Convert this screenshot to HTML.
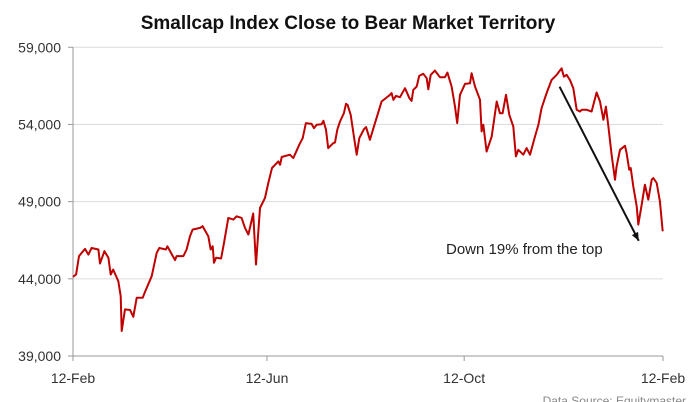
<!DOCTYPE html>
<html><head><meta charset="utf-8">
<style>
html,body{margin:0;padding:0;background:#fff;}
svg{display:block;font-family:"Liberation Sans",sans-serif;}
</style></head>
<body>
<svg id="chart" width="696" height="402" viewBox="0 0 696 402">
<text x="348" y="29" text-anchor="middle" font-size="19" font-weight="bold" fill="#111">Smallcap Index Close to Bear Market Territory</text>
<g id="grid"></g>
<g id="yaxis"></g>
<g id="xaxis"></g>
<path id="series" fill="none" stroke="#c00000" stroke-width="2" stroke-linejoin="round"/>
<g id="annot"></g>
<text x="686" y="405" text-anchor="end" font-size="12" fill="#888">Data Source: Equitymaster</text>
</svg>
<script>
const yTicks=[39000,44000,49000,54000,59000];
const yTickLabels=["39,000","44,000","49,000","54,000","59,000"];
const xTicks=[0,120,242,365];
const xTickLabels=["12-Feb","12-Jun","12-Oct","12-Feb"];
const days=[0,1.9,3.7,7.4,9.5,11.5,15.7,16.7,19.4,21.9,23.3,24.9,28.0,29.5,30.1,32.2,35.3,37.3,39.4,43.1,44.5,48.7,51.8,53.4,57.5,58.4,63.1,64.1,68.3,70.3,72.4,74.0,78.6,80.2,83.7,85.2,86.4,87.2,88.5,91.6,93.4,96.1,99.2,101.2,104.3,106.4,108.5,111.5,113.2,115.7,118.8,120.8,123.1,127.0,128.1,129.1,134.2,136.3,140.0,142.1,144.1,147.6,149.1,150.7,153.8,154.9,156.5,157.9,161.0,162.1,163.5,165.2,167.6,168.9,169.9,171.8,173.8,175.5,177.1,180.0,181.3,183.7,186.8,190.9,196.1,197.1,198.2,199.8,202.3,205.4,208.1,209.5,210.5,212.6,214.2,216.7,218.8,219.8,221.3,223.9,227.0,230.1,231.6,234.2,236.3,237.7,239.4,242.5,245.6,246.6,248.7,251.8,252.8,253.8,255.9,259.0,262.1,264.1,265.8,267.9,269.9,272.4,274.0,275.5,278.6,280.6,282.7,285.8,287.9,289.9,293.0,296.1,299.2,302.3,303.7,305.4,307.4,309.5,311.6,313.6,314.7,317.8,320.8,323.9,326.0,328.1,329.7,331.2,333.2,334.2,335.3,336.3,338.4,341.5,342.5,344.1,345.0,346.6,348.7,349.7,351.8,353.8,355.9,358.0,359.0,361.1,363.1,364.8];
const values=[44130,44280,45470,45940,45570,46000,45900,44990,45790,45360,44280,44600,43850,42880,40620,42020,41980,41540,42770,42770,43140,44170,45680,46000,45900,46110,45210,45470,45470,45900,46760,47190,47300,47410,46760,45900,46110,45040,45360,45320,46330,47950,47840,48050,47950,47300,46870,48230,44930,48590,49240,50210,51180,51610,51390,51890,52040,51820,52690,53120,54090,54040,53760,53980,54020,54240,53660,52470,52790,52840,53660,54190,54730,55340,55270,54630,53220,52040,53120,53700,53830,53010,54090,55490,55920,56030,55600,55850,55770,56350,55700,55530,56240,56460,57150,57280,57000,56280,57210,57490,57060,57060,57360,56460,55160,54090,55920,56630,56670,57320,56460,55600,53550,53980,52250,53220,55490,54730,54730,55920,54630,53870,51930,52360,52040,52470,52040,53220,53980,55060,56030,56890,57210,57640,57100,57210,56890,56350,54950,54840,54950,54950,54840,56070,55490,54300,55160,53870,52040,51280,50420,51280,52360,52620,52150,51070,51180,49990,48700,47510,48810,50100,49130,50420,50530,50210,49020,47080];
const arrowFrom=[301,56450];
const arrowTo=[350,46460];
const NS="http://www.w3.org/2000/svg";
const X0=73,X1=663,Y0=356,Y1=47.3;
function xs(d){return X0+(d-0)/(365-0)*(X1-X0);}
function ys(v){return Y0-(v-39000)/(59000-39000)*(Y0-Y1);}
function mk(tag,attrs,parent){const e=document.createElementNS(NS,tag);for(const k in attrs)e.setAttribute(k,attrs[k]);parent.appendChild(e);return e;}
const grid=document.getElementById('grid'),yax=document.getElementById('yaxis'),xax=document.getElementById('xaxis');
yTicks.forEach((t,i)=>{
  if(i>0){const l=mk('line',{x1:X0,x2:X1,y1:ys(t),y2:ys(t),stroke:'#dcdcdc','stroke-width':1},grid);
  
  }
  const tk=mk('line',{x1:X0-5,x2:X0,y1:ys(t),y2:ys(t),stroke:'#999','stroke-width':1},yax);
  
  
  const tx=mk('text',{x:X0-12,y:ys(t)+5,'text-anchor':'end','font-size':14,fill:'#333'},yax);
  tx.textContent=yTickLabels[i];
  
  
});
const ya=mk('line',{x1:X0,x2:X0,y1:Y1,y2:Y0,stroke:'#999','stroke-width':1},yax);


const xa=mk('line',{x1:X0,x2:X1,y1:Y0,y2:Y0,stroke:'#999','stroke-width':1},xax);


xTicks.forEach((t,i)=>{
  const tk=mk('line',{x1:xs(t),x2:xs(t),y1:Y0,y2:Y0+5,stroke:'#999','stroke-width':1},xax);
  
  
  const tx=mk('text',{x:xs(t),y:383,'text-anchor':'middle','font-size':14,fill:'#333'},xax);
  tx.textContent=xTickLabels[i];
  
  
});
document.getElementById('series').setAttribute('d',days.map((d,i)=>(i?'L':'M')+xs(d).toFixed(1)+','+ys(values[i]).toFixed(1)).join(''));
const an=document.getElementById('annot');
const ax1=xs(arrowFrom[0]),ay1=ys(arrowFrom[1]),ax2=xs(arrowTo[0]),ay2=ys(arrowTo[1]);
const al=mk('line',{x1:ax1,y1:ay1,x2:ax2,y2:ay2,stroke:'#111','stroke-width':2},an);


const ang=Math.atan2(ay2-ay1,ax2-ax1),h=9;
const head=mk('polygon',{points:[[ax2,ay2],[ax2-h*Math.cos(ang-0.4),ay2-h*Math.sin(ang-0.4)],[ax2-h*Math.cos(ang+0.4),ay2-h*Math.sin(ang+0.4)]].map(p=>p.join(',')).join(' '),fill:'#111'},an);


const at=mk('text',{x:446,y:254,'font-size':15,fill:'#222'},an);
at.textContent='Down 19% from the top';


</script>
</body></html>
